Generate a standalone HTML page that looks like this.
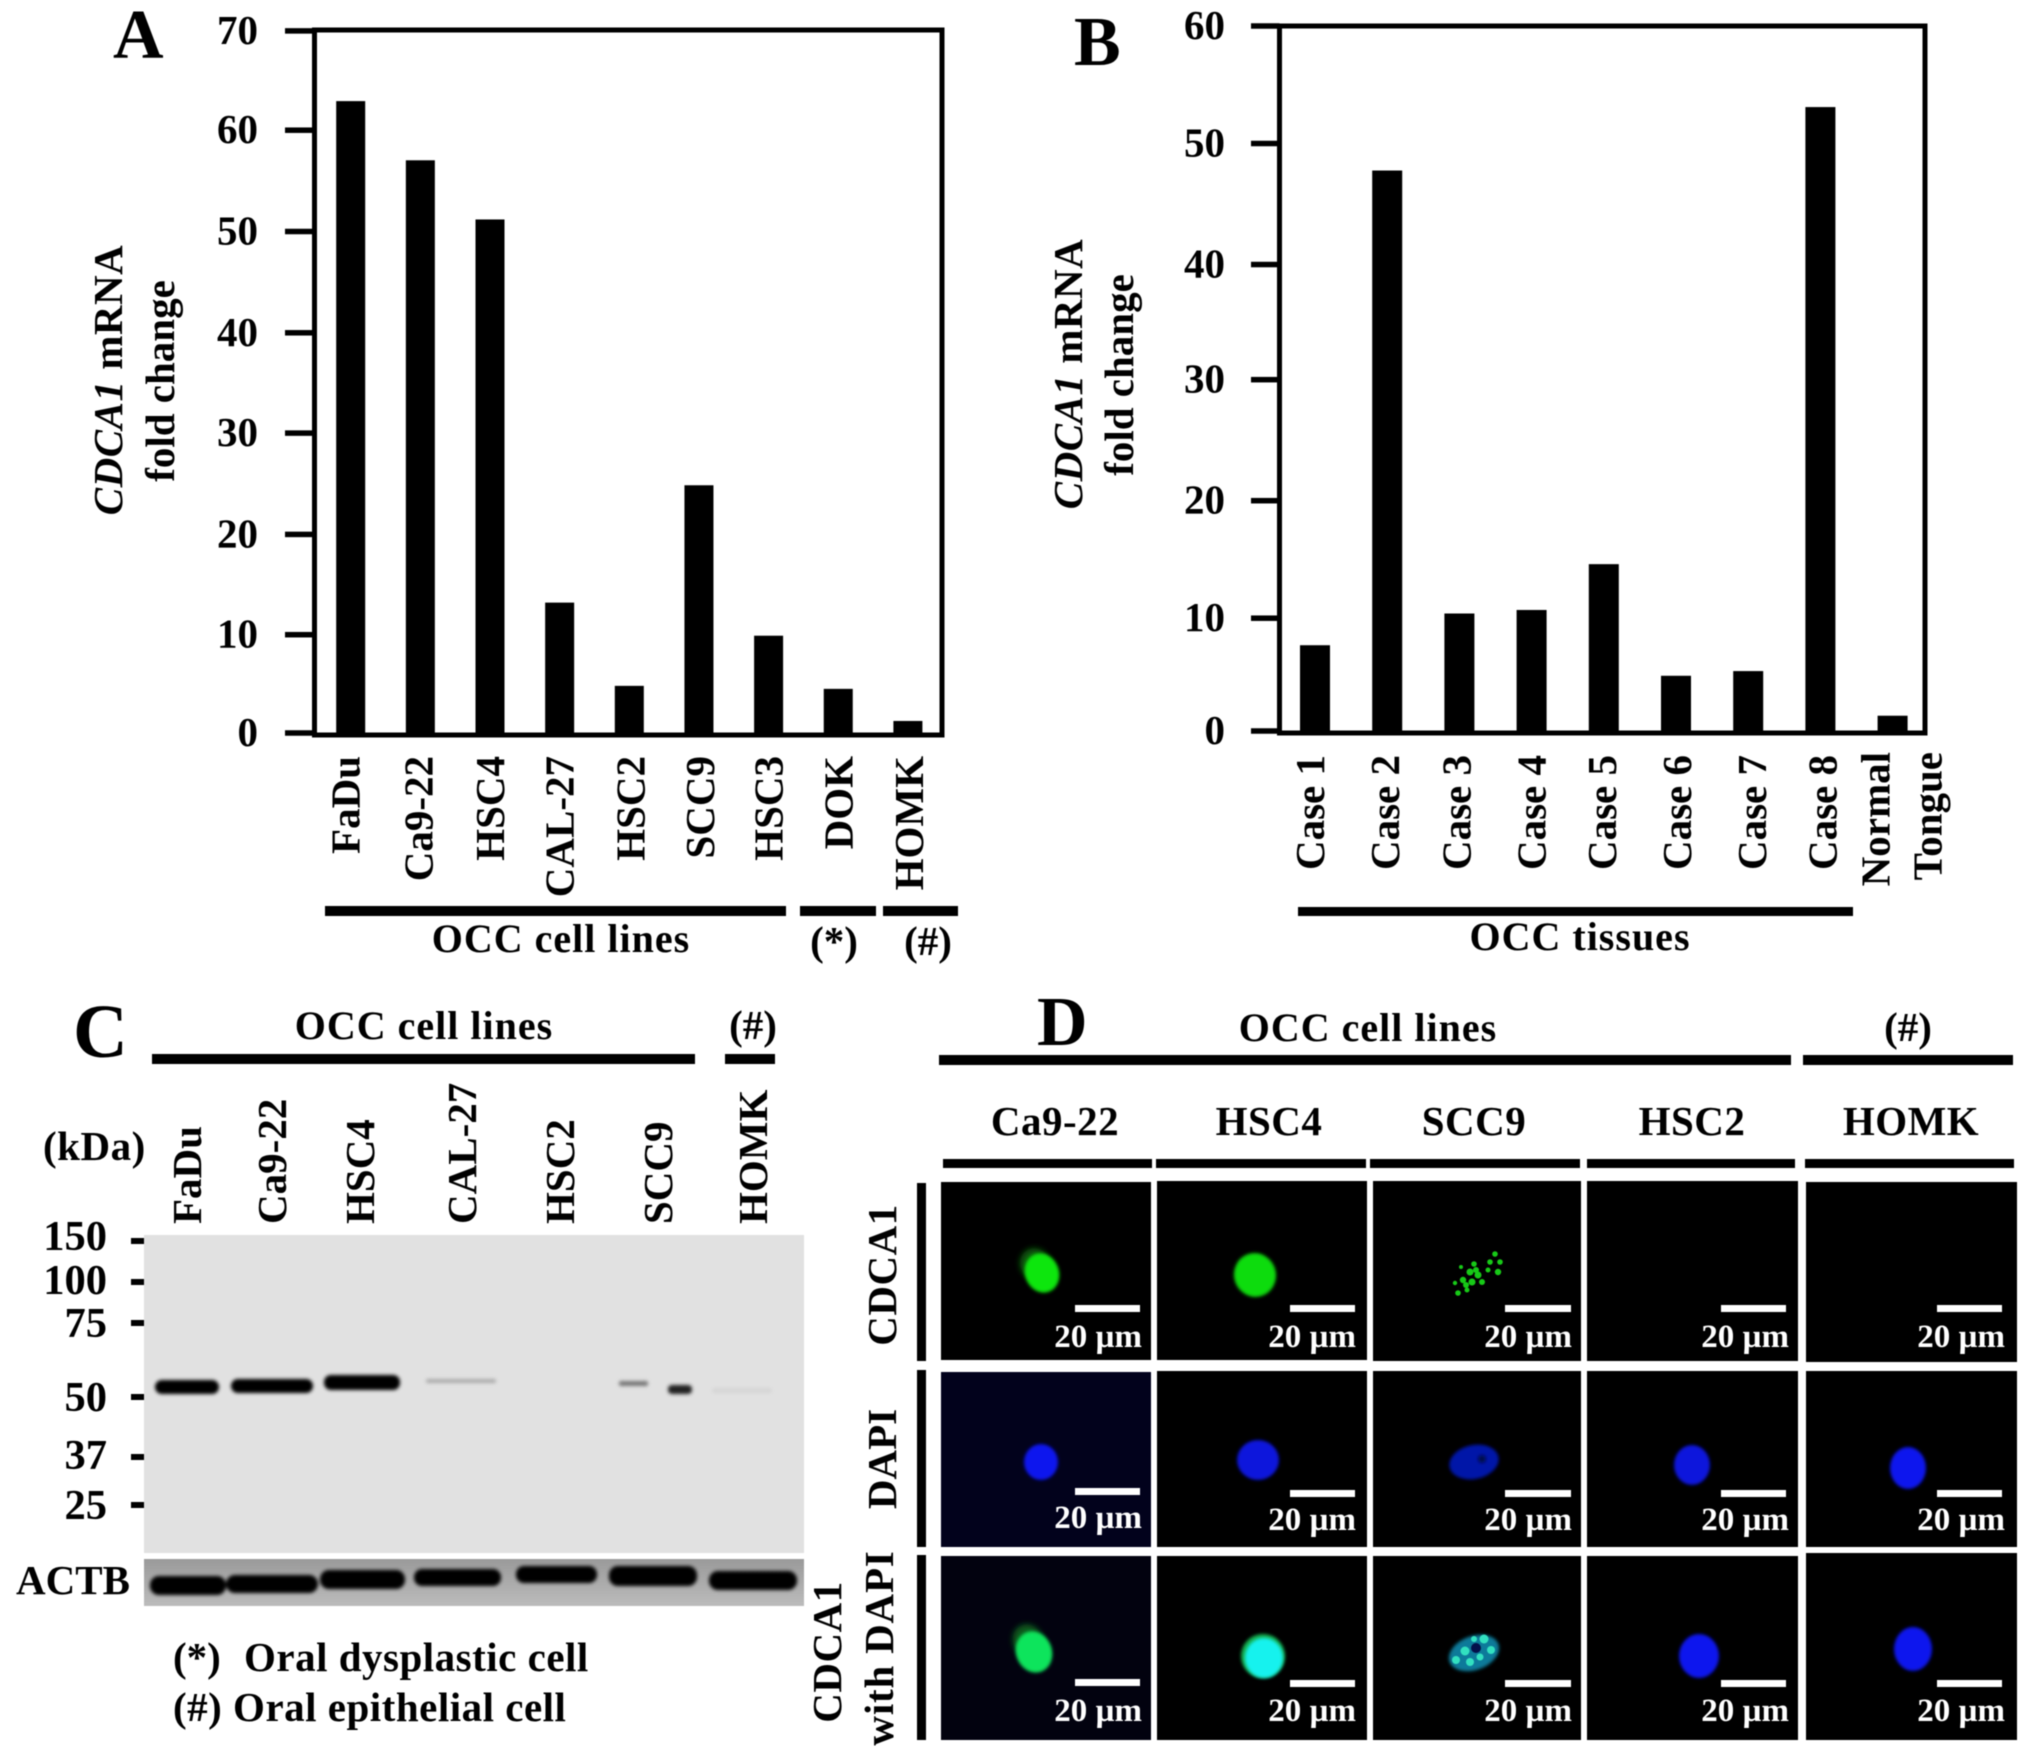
<!DOCTYPE html>
<html lang="en">
<head>
<meta charset="utf-8">
<title>CDCA1 expression figure</title>
<style>
html,body{margin:0;padding:0;background:#fff;width:2031px;height:1758px;overflow:hidden}
svg{display:block;filter:blur(.5px)}
text{font-family:"Liberation Serif",serif;font-weight:700;fill:#000;font-size:41px}
.letter{font-size:70px}
.sb{font-size:33px;fill:#fff;text-anchor:end}
.bar{fill:#fff}
.c{text-anchor:middle}
.wide{font-size:40px;letter-spacing:1px}
.sp{letter-spacing:.5px}
.mw{font-size:42.5px;text-anchor:end}
</style>
</head>
<body>
<svg id="fig" xmlns="http://www.w3.org/2000/svg" width="2031" height="1758" viewBox="0 0 2031 1758">
<defs>
<filter id="b1" x="-30%" y="-30%" width="160%" height="160%"><feGaussianBlur stdDeviation="1.6"/></filter>
<filter id="bd" x="-30%" y="-60%" width="160%" height="220%"><feGaussianBlur stdDeviation="1.9"/></filter>
<filter id="b2" x="-50%" y="-50%" width="200%" height="200%"><feGaussianBlur stdDeviation="3"/></filter>
<linearGradient id="actbBg" x1="0" y1="0" x2="0" y2="1"><stop offset="0" stop-color="#9a9a9a"/><stop offset="1" stop-color="#bcbcbc"/></linearGradient>
</defs>
<rect width="2031" height="1758" fill="#fff"/>

<!-- PANEL A -->
<g id="chartA"></g>
<text class="letter" x="113" y="58">A</text>
<g>
<text class="c sp" transform="translate(122,380) rotate(-90)"><tspan font-style="italic">CDCA1</tspan> mRNA</text>
<text class="c" transform="translate(174,381) rotate(-90)">fold change</text>
</g>
<g>
<rect x="325" y="906" width="461" height="10"/>
<rect x="800" y="906" width="76" height="10"/>
<rect x="883" y="906" width="75" height="10"/>
<text class="c wide" x="561" y="952">OCC cell lines</text>
<text class="c" x="834" y="955">(*)</text>
<text class="c" x="928" y="955">(#)</text>
</g>

<!-- PANEL B -->
<g id="chartB"></g>
<text class="letter" x="1074" y="65">B</text>
<g>
<text class="c sp" transform="translate(1082,374) rotate(-90)"><tspan font-style="italic">CDCA1</tspan> mRNA</text>
<text class="c" transform="translate(1133,375) rotate(-90)">fold change</text>
</g>
<rect x="1298" y="907" width="555" height="9"/>
<text class="c wide" x="1580" y="950">OCC tissues</text>

<!-- PANEL C -->
<g>
<text class="letter" x="73" y="1057" style="font-size:76px">C</text>
<text class="c wide" x="424" y="1039">OCC cell lines</text>
<text class="c" x="753" y="1039">(#)</text>
<rect x="152" y="1054" width="543" height="10"/>
<rect x="725" y="1054" width="50" height="10"/>
<text class="sp" x="43" y="1160">(kDa)</text>
<g>
<text transform="translate(201,1224) rotate(-90)">FaDu</text>
<text transform="translate(286,1224) rotate(-90)">Ca9-22</text>
<text transform="translate(374,1224) rotate(-90)">HSC4</text>
<text transform="translate(476,1224) rotate(-90)">CAL-27</text>
<text transform="translate(574,1224) rotate(-90)">HSC2</text>
<text transform="translate(672,1224) rotate(-90)">SCC9</text>
<text transform="translate(767,1224) rotate(-90)">HOMK</text>
</g>
<g>
<text class="mw" x="107" y="1250">150</text>
<text class="mw" x="107" y="1294">100</text>
<text class="mw" x="107" y="1337">75</text>
<text class="mw" x="107" y="1411">50</text>
<text class="mw" x="107" y="1469">37</text>
<text class="mw" x="107" y="1519">25</text>
<rect x="131" y="1238" width="13" height="6"/><rect x="131" y="1279" width="13" height="6"/><rect x="131" y="1320" width="13" height="6"/><rect x="131" y="1394" width="13" height="6"/><rect x="131" y="1454" width="13" height="6"/><rect x="131" y="1502" width="13" height="6"/>
</g>
<rect x="144" y="1235" width="660" height="318" fill="#e1e1e1"/>
<g filter="url(#bd)">
<rect x="155" y="1380" width="64" height="14" rx="7" fill="#000"/>
<rect x="231" y="1379" width="82" height="14" rx="7" fill="#000"/>
<rect x="324" y="1375" width="76" height="15" rx="7" fill="#000"/>
<rect x="426" y="1379" width="70" height="4" rx="2" fill="#aaa"/>
<rect x="619" y="1381" width="29" height="5" rx="2" fill="#777"/>
<rect x="668" y="1385" width="24" height="9" rx="4" fill="#222"/>
<rect x="712" y="1388" width="60" height="5" rx="2" fill="#d6d6d6"/>
</g>
<rect x="144" y="1559" width="660" height="47" fill="url(#actbBg)"/>
<g filter="url(#bd)" fill="#000">
<rect x="150" y="1576" width="76" height="19" rx="9"/>
<rect x="226" y="1575" width="92" height="18" rx="9"/>
<rect x="320" y="1570" width="85" height="19" rx="9"/>
<rect x="414" y="1569" width="87" height="17" rx="8"/>
<rect x="516" y="1566" width="81" height="17" rx="8"/>
<rect x="609" y="1566" width="88" height="20" rx="9"/>
<rect x="709" y="1571" width="88" height="19" rx="9"/>
</g>
<text x="16" y="1594">ACTB</text>
<text x="173" y="1671">(*)</text>
<text class="sp" x="244" y="1671">Oral dysplastic cell</text>
<text class="sp" x="173" y="1721">(#) Oral epithelial cell</text>
</g>

<!-- PANEL D -->
<g>
<text class="letter" x="1037" y="1045">D</text>
<text class="c wide" x="1368" y="1041">OCC cell lines</text>
<text class="c" x="1908" y="1041">(#)</text>
<rect x="939" y="1055" width="852" height="10"/>
<rect x="1803" y="1055" width="210" height="10"/>
<text class="c sp" x="1055" y="1135">Ca9-22</text>
<text class="c sp" x="1269" y="1135">HSC4</text>
<text class="c sp" x="1474" y="1135">SCC9</text>
<text class="c sp" x="1692" y="1135">HSC2</text>
<text class="c sp" x="1911" y="1135">HOMK</text>
<rect x="943" y="1159" width="209" height="9"/>
<rect x="1156" y="1159" width="210" height="9"/>
<rect x="1370" y="1159" width="210" height="9"/>
<rect x="1587" y="1159" width="208" height="9"/>
<rect x="1805" y="1159" width="209" height="9"/>
<rect x="917" y="1183" width="9" height="178"/>
<rect x="917" y="1370" width="9" height="177"/>
<rect x="917" y="1555" width="9" height="185"/>
<text class="c sp" transform="translate(896,1275) rotate(-90)">CDCA1</text>
<text class="c" transform="translate(896,1459) rotate(-90)">DAPI</text>
<text class="c sp" transform="translate(841,1652) rotate(-90)">CDCA1</text>
<text class="c" style="letter-spacing:.8px" transform="translate(893,1648) rotate(-90)">with DAPI</text>

<!-- row 1 -->
<g>
<rect x="941" y="1182" width="210" height="178" fill="#000"/><rect x="1157" y="1181" width="210" height="179" fill="#000"/><rect x="1373" y="1181" width="208" height="180" fill="#000"/><rect x="1587" y="1181" width="211" height="180" fill="#000"/><rect x="1806" y="1182" width="211" height="180" fill="#000"/>
<ellipse cx="1035" cy="1264" rx="15" ry="16" fill="#0a5a0a" filter="url(#b2)" transform="rotate(-25 1035 1264)"/>
<ellipse cx="1042" cy="1273" rx="17" ry="20" fill="#0ce60c" filter="url(#b1)" transform="rotate(-20 1042 1273)"/>
<ellipse cx="1255" cy="1275" rx="21" ry="22" fill="#10dc10" filter="url(#b1)" transform="rotate(-15 1255 1275)"/>
<g fill="#17c917">
<circle cx="1455" cy="1283" r="2.2"/><circle cx="1458" cy="1293" r="2.8"/><circle cx="1463" cy="1280" r="3.2"/><circle cx="1467" cy="1290" r="2.5"/><circle cx="1470" cy="1272" r="3.5"/><circle cx="1474" cy="1264" r="2.8"/><circle cx="1472" cy="1282" r="3.5"/><circle cx="1478" cy="1275" r="3.5"/><circle cx="1482" cy="1282" r="3"/><circle cx="1490" cy="1262" r="2.8"/><circle cx="1495" cy="1254" r="2.8"/><circle cx="1500" cy="1262" r="2.8"/><circle cx="1498" cy="1272" r="3.2"/><circle cx="1488" cy="1270" r="2.5"/><circle cx="1461" cy="1267" r="2"/><circle cx="1466" cy="1285" r="3"/><circle cx="1476" cy="1270" r="3"/>
</g>
</g>
<!-- row 2 -->
<g>
<rect x="941" y="1372" width="210" height="175" fill="#02021c"/><rect x="1157" y="1371" width="210" height="176" fill="#000"/><rect x="1373" y="1371" width="208" height="176" fill="#000"/><rect x="1587" y="1371" width="211" height="176" fill="#000"/><rect x="1806" y="1371" width="211" height="176" fill="#000"/>
<ellipse cx="1041" cy="1462" rx="17" ry="18" fill="#0a14ee" filter="url(#b1)"/>
<ellipse cx="1258" cy="1460" rx="21" ry="20" fill="#0812dc" filter="url(#b1)"/>
<ellipse cx="1474" cy="1462" rx="25" ry="17" fill="#0612a8" filter="url(#b1)" transform="rotate(-12 1474 1462)"/>
<circle cx="1482" cy="1459" r="4" fill="#03084c" filter="url(#b1)"/>
<ellipse cx="1692" cy="1465" rx="18" ry="20" fill="#0812dc" filter="url(#b1)"/>
<ellipse cx="1908" cy="1468" rx="18" ry="21" fill="#0a14ee" filter="url(#b1)"/>
</g>
<!-- row 3 -->
<g>
<rect x="941" y="1556" width="210" height="184" fill="#02020f"/><rect x="1157" y="1556" width="210" height="184" fill="#000"/><rect x="1373" y="1556" width="208" height="184" fill="#000"/><rect x="1587" y="1556" width="211" height="184" fill="#000"/><rect x="1806" y="1553" width="211" height="187" fill="#000"/>
<ellipse cx="1028" cy="1641" rx="15" ry="17" fill="#0a5a1b" filter="url(#b2)" transform="rotate(-25 1028 1641)"/>
<ellipse cx="1034" cy="1652" rx="18" ry="21" fill="#0fe45c" filter="url(#b1)" transform="rotate(-20 1034 1652)"/>
<ellipse cx="1263" cy="1656" rx="22" ry="22" fill="#12b050" filter="url(#b1)"/>
<ellipse cx="1264" cy="1658" rx="19" ry="20" fill="#12f2ee" filter="url(#b1)"/>
<ellipse cx="1474" cy="1653" rx="26" ry="17" fill="#0c7a9a" filter="url(#b1)" transform="rotate(-20 1474 1653)"/>
<g fill="#32e0c0"><circle cx="1456" cy="1660" r="4"/><circle cx="1465" cy="1651" r="4.5"/><circle cx="1470" cy="1662" r="4"/><circle cx="1484" cy="1639" r="4.5"/><circle cx="1491" cy="1650" r="4"/><circle cx="1480" cy="1657" r="3.5"/><circle cx="1474" cy="1639" r="3"/></g>
<circle cx="1476" cy="1648" r="5" fill="#04104a"/>
<ellipse cx="1699" cy="1656" rx="20" ry="22" fill="#0a14ee" filter="url(#b1)"/>
<ellipse cx="1913" cy="1649" rx="19" ry="22" fill="#0a14ee" filter="url(#b1)"/>
</g>
<!-- scale bars -->
<g>
<rect class="bar" x="1075" y="1305" width="65" height="7"/><rect class="bar" x="1290" y="1305" width="65" height="7"/><rect class="bar" x="1505" y="1305" width="66" height="7"/><rect class="bar" x="1721" y="1305" width="65" height="7"/><rect class="bar" x="1937" y="1305" width="65" height="7"/>
<rect class="bar" x="1075" y="1488" width="65" height="7"/><rect class="bar" x="1290" y="1490" width="65" height="7"/><rect class="bar" x="1505" y="1490" width="66" height="7"/><rect class="bar" x="1721" y="1490" width="65" height="7"/><rect class="bar" x="1937" y="1490" width="65" height="7"/>
<rect class="bar" x="1075" y="1679" width="65" height="7"/><rect class="bar" x="1290" y="1680" width="65" height="7"/><rect class="bar" x="1505" y="1680" width="66" height="7"/><rect class="bar" x="1721" y="1680" width="65" height="7"/><rect class="bar" x="1937" y="1680" width="65" height="7"/>
<text class="sb" x="1142" y="1347">20 µm</text><text class="sb" x="1356" y="1347">20 µm</text><text class="sb" x="1572" y="1347">20 µm</text><text class="sb" x="1789" y="1347">20 µm</text><text class="sb" x="2005" y="1347">20 µm</text>
<text class="sb" x="1142" y="1528">20 µm</text><text class="sb" x="1356" y="1530">20 µm</text><text class="sb" x="1572" y="1530">20 µm</text><text class="sb" x="1789" y="1530">20 µm</text><text class="sb" x="2005" y="1530">20 µm</text>
<text class="sb" x="1142" y="1721">20 µm</text><text class="sb" x="1356" y="1721">20 µm</text><text class="sb" x="1572" y="1721">20 µm</text><text class="sb" x="1789" y="1721">20 µm</text><text class="sb" x="2005" y="1721">20 µm</text>
</g>
</g>
</svg>
<script>
const categoriesA = ["FaDu","Ca9-22","HSC4","CAL-27","HSC2","SCC9","HSC3","DOK","HOMK"];
const valuesA = [63,57.1,51.2,13,4.7,24.7,9.7,4.4,1.2];
const ticksA = [0,9.8,19.8,29.9,39.9,50,60.1,70];
const tickLabelsA = ["0","10","20","30","40","50","60","70"];
const categoriesB = ["Case 1","Case 2","Case 3","Case 4","Case 5","Case 6","Case 7","Case 8","Normal|Tongue"];
const valuesB = [7.3,47.7,10,10.3,14.2,4.7,5.1,53.1,1.3];
const ticksB = [0,9.6,19.6,29.9,39.7,50,60];
const tickLabelsB = ["0","10","20","30","40","50","60"];
const NS = "http://www.w3.org/2000/svg";
function mk(parent, tag, attrs, txt){
  const el = document.createElementNS(NS, tag);
  for (const k in attrs) el.setAttribute(k, attrs[k]);
  if (txt !== undefined) el.textContent = txt;
  parent.appendChild(el);
  return el;
}
function drawChart(g, cfg){
  const y = v => cfg.y0 - cfg.unit * v;
  const x = i => cfg.x0 + cfg.band * i;
  cfg.values.forEach((v,i)=>{
    const r = mk(g,"rect",{x:x(i)-cfg.barW/2,y:y(v),width:cfg.barW,height:cfg.bottom-y(v),fill:"#000"});
    
    
  });
  const f = mk(g,"rect",{x:cfg.left,y:cfg.top,width:cfg.right-cfg.left,height:cfg.bottom-cfg.top,fill:"none",stroke:"#000","stroke-width":5});
  
  
  cfg.ticks.forEach((t,i)=>{
    const l = mk(g,"rect",{x:cfg.tickX,y:y(t)-2.75,width:cfg.left-cfg.tickX,height:5.5,fill:"#000"});
    
    
    const lb = mk(g,"text",{x:cfg.tickLabelX,y:y(t)+13,"text-anchor":"end",style:"font-size:41px"},cfg.tickLabels[i]);
    
    
  });
  cfg.cats.forEach((c,i)=>{
    const parts = c.split('|');
    parts.forEach((p,j)=>{
      const bx = x(i) + cfg.labelDx + cfg.nudge[i] + (parts.length>1 ? (j===0?-14:38) : 0);
      const by = cfg.labelY - (parts.length>1 ? 3 : 0);
      const t = mk(g,"text",{transform:"translate("+bx+","+by+") rotate(-90)","text-anchor":"end"},p);
      
      
    });
  });
}
drawChart(document.getElementById("chartA"),{cats:categoriesA,values:valuesA,ticks:ticksA,tickLabels:tickLabelsA,y0:733,unit:10.03,x0:350.7,band:69.65,barW:29,left:314.5,right:942,top:30,bottom:735,tickX:285,tickLabelX:258,labelY:756,labelDx:15,nudge:[-6,-3,-1,-1,0,0,-1,-1,0]});
drawChart(document.getElementById("chartB"),{cats:categoriesB,values:valuesB,ticks:ticksB,tickLabels:tickLabelsB,y0:731,unit:11.75,x0:1315,band:72.2,barW:30,left:1279.5,right:1925,top:26,bottom:733,tickX:1251,tickLabelX:1225,labelY:755,labelDx:11,nudge:[-2,1,0,3,1,4,7,5,0]});
</script>
</body>
</html>
